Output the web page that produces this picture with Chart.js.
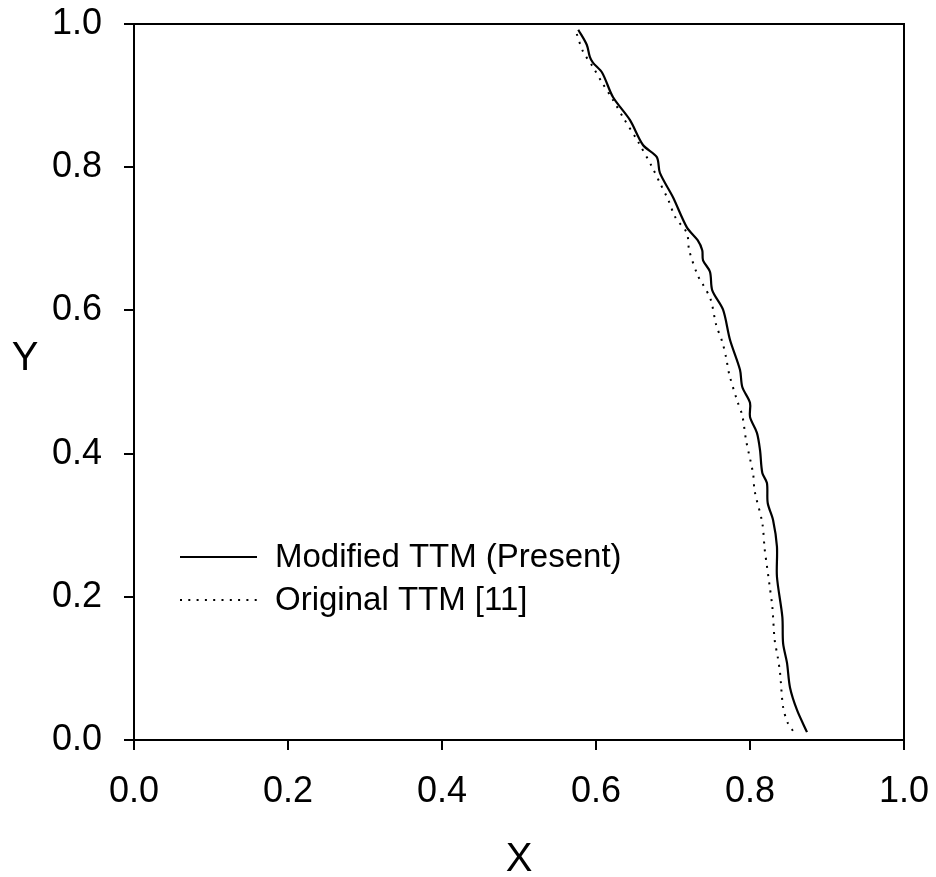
<!DOCTYPE html>
<html lang="en">
<head>
  <meta charset="UTF-8">
  <title>Modified vs Original TTM</title>
  <script src="https://cdn.jsdelivr.net/npm/chart.js"></script>
  <style>
    html, body { margin: 0; padding: 0; background: #fff; }
    #wrap { width: 936px; height: 877px; }
  </style>
</head>
<body>
  <div id="wrap"><canvas id="ttmChart" width="936" height="877"></canvas></div>

  <script>
    // series names
    const seriesNames = ['Modified TTM (Present)', 'Original TTM [11]'];

    // Modified TTM (solid)
    const modX = [0.577, 0.588, 0.592, 0.596, 0.608, 0.622, 0.644, 0.661, 0.679, 0.683, 0.700, 0.718, 0.732, 0.738, 0.739, 0.748, 0.751, 0.765, 0.774, 0.787, 0.790, 0.800, 0.800, 0.809, 0.813, 0.816, 0.822, 0.823, 0.830, 0.835, 0.835, 0.842, 0.843, 0.848, 0.852, 0.861, 0.874];
    const modY = [0.992, 0.971, 0.954, 0.946, 0.932, 0.898, 0.866, 0.831, 0.814, 0.792, 0.758, 0.716, 0.698, 0.684, 0.670, 0.654, 0.628, 0.601, 0.559, 0.517, 0.493, 0.471, 0.451, 0.429, 0.405, 0.373, 0.359, 0.331, 0.307, 0.270, 0.228, 0.172, 0.135, 0.108, 0.073, 0.042, 0.011];

    // Original TTM (dotted)
    const origX = [0.575, 0.583, 0.596, 0.608, 0.622, 0.635, 0.655, 0.673, 0.683, 0.694, 0.703, 0.718, 0.721, 0.732, 0.738, 0.749, 0.756, 0.764, 0.769, 0.773, 0.783, 0.790, 0.795, 0.804, 0.806, 0.816, 0.819, 0.822, 0.825, 0.829, 0.832, 0.836, 0.839, 0.843, 0.849, 0.857];
    const origY = [0.986, 0.962, 0.940, 0.918, 0.894, 0.870, 0.835, 0.800, 0.778, 0.754, 0.730, 0.708, 0.684, 0.649, 0.638, 0.615, 0.580, 0.556, 0.534, 0.511, 0.475, 0.453, 0.418, 0.372, 0.348, 0.303, 0.267, 0.243, 0.219, 0.186, 0.140, 0.116, 0.094, 0.046, 0.024, 0.011];

    // tick values for both axes
    const tickVals = [0.0, 0.2, 0.4, 0.6, 0.8, 1.0];

    function toPoints(xs, ys) {
      return xs.map((x, i) => ({ x: x, y: ys[i] }));
    }

    const FONT = '"Liberation Sans", Arial, sans-serif';

    // frame, upright axis titles and the legend inside the plot
    const extras = {
      id: 'extras',
      afterDraw(chart) {
        const ctx = chart.ctx;
        const a = chart.chartArea;
        ctx.save();
        ctx.strokeStyle = '#000';
        ctx.lineWidth = 2;
        ctx.strokeRect(a.left, a.top, a.right - a.left, a.bottom - a.top);

        ctx.fillStyle = '#000';
        ctx.font = '40px ' + FONT;
        ctx.textAlign = 'center';
        ctx.textBaseline = 'middle';
        ctx.fillText('X', (a.left + a.right) / 2, 860);
        ctx.fillText('Y', 25, 359);

        // legend
        const lx = 180, ly = 557, gap = 43;
        ctx.font = '33px ' + FONT;
        ctx.textAlign = 'left';
        ctx.lineWidth = 2;
        ctx.beginPath();
        ctx.moveTo(lx, ly);
        ctx.lineTo(lx + 77, ly);
        ctx.stroke();
        ctx.fillText(seriesNames[0], 275, ly + 1);

        ctx.setLineDash([2, 6.3]);
        ctx.beginPath();
        ctx.moveTo(lx, ly + gap);
        ctx.lineTo(lx + 79, ly + gap);
        ctx.stroke();
        ctx.setLineDash([]);
        ctx.fillText(seriesNames[1], 275, ly + gap + 1);
        ctx.restore();
      }
    };

    const ctx = document.getElementById('ttmChart').getContext('2d');
    new Chart(ctx, {
      type: 'scatter',
      data: {
        datasets: [
          {
            label: seriesNames[0],
            data: toPoints(modX, modY),
            showLine: true,
            borderColor: '#000',
            borderWidth: 2.2,
            pointRadius: 0,
            tension: 0.3,
          },
          {
            label: seriesNames[1],
            data: toPoints(origX, origY),
            showLine: true,
            borderColor: '#000',
            borderWidth: 2,
            borderDash: [2, 6.3],
            pointRadius: 0,
            tension: 0.3,
          },
        ],
      },
      options: {
        responsive: false,
        animation: false,
        layout: { padding: { top: 24, right: 32, left: 0, bottom: 0 } },
        plugins: { legend: { display: false }, tooltip: { enabled: false } },
        scales: {
          x: {
            type: 'linear',
            min: 0,
            max: 1,
            afterBuildTicks: (s) => { s.ticks = tickVals.map(v => ({ value: v })); },
            afterFit: (s) => { s.height = 137; s.paddingLeft = 0; s.paddingRight = 0; },
            grid: { drawOnChartArea: false, drawTicks: true, tickLength: 10, color: '#000', lineWidth: 2 },
            border: { display: true, color: '#000', width: 2 },
            ticks: { color: '#000', padding: 20, maxRotation: 0, font: { family: FONT, size: 36 }, callback: (v) => Number(v).toFixed(1) },
          },
          y: {
            type: 'linear',
            min: 0,
            max: 1,
            afterBuildTicks: (s) => { s.ticks = tickVals.map(v => ({ value: v })); },
            afterFit: (s) => { s.width = 134; s.paddingTop = 0; s.paddingBottom = 0; },
            grid: { drawOnChartArea: false, drawTicks: true, tickLength: 10, color: '#000', lineWidth: 2 },
            border: { display: true, color: '#000', width: 2 },
            ticks: { color: '#000', padding: 22, font: { family: FONT, size: 36 }, callback: (v) => Number(v).toFixed(1) },
          },
        },
      },
      plugins: [extras],
    });
  </script>
</body>
</html>
